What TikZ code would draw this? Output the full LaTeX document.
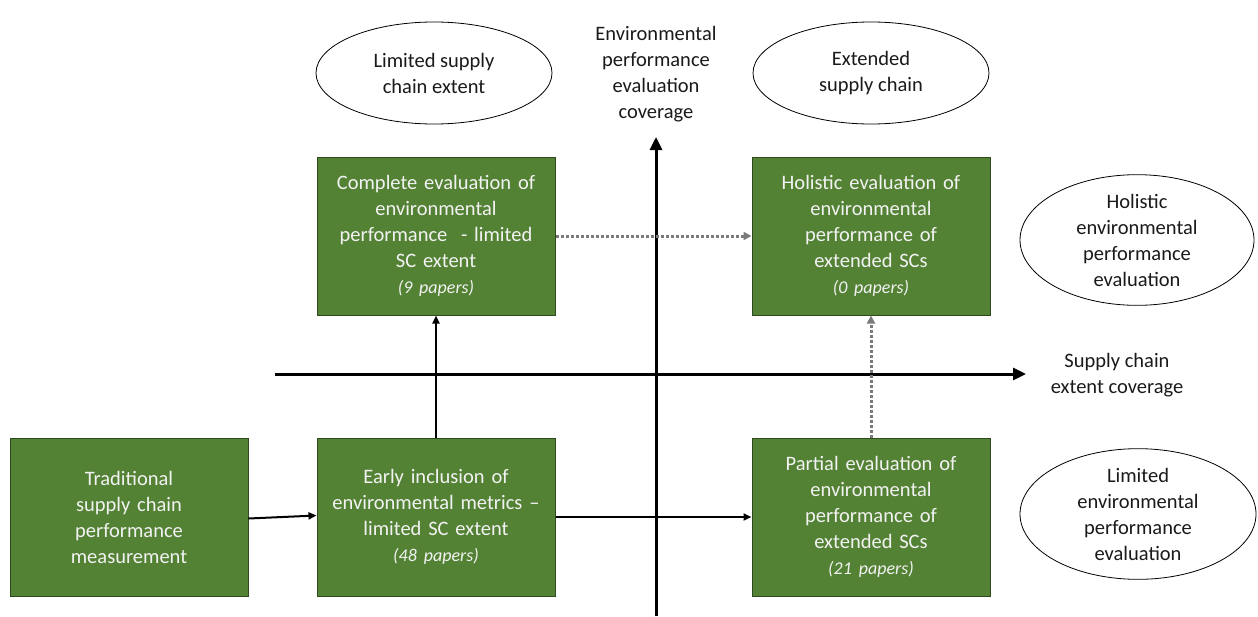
\documentclass[tikz,border=0pt]{standalone}
\usepackage{fontspec}
\setmainfont{Carlito}
\usetikzlibrary{shapes.geometric,arrows.meta,calc}
\definecolor{boxgreen}{HTML}{548235}
\definecolor{boxedge}{HTML}{2F4A1E}
\definecolor{boxtext}{HTML}{F2F2F2}
\definecolor{dotgray}{HTML}{7A7A7A}
\definecolor{ink}{HTML}{1A1A1A}
\begin{document}
\begin{tikzpicture}[x=1pt,y=-1pt,
  greenbox/.style={draw=boxedge, line width=1pt, fill=boxgreen, text=boxtext,
    minimum width=238pt, minimum height=158pt, text width=232pt, align=center,
    font=\fontsize{20.5}{26}\selectfont, inner sep=0pt},
  oval/.style={ellipse, draw=black, line width=0.8pt, fill=white,
    minimum width=236pt, minimum height=102pt, align=center, text=ink,
    font=\fontsize{20.5}{26}\selectfont, inner sep=0pt},
  axlabel/.style={align=center, text=ink, font=\fontsize{20.5}{26}\selectfont, inner sep=0pt},
  axisline/.style={line width=3pt, -{Triangle[length=13pt,width=12pt]}},
  flow/.style={line width=2pt, -{Triangle[length=8pt,width=7pt]}},
  dotflow/.style={dotgray, line width=3pt, dash pattern=on 3pt off 2pt, -{Triangle[length=8pt,width=8pt]}},
  paperfont/.style={}
]
\useasboundingbox (0,0) rectangle (1258,616);

% axes
\coordinate (vbot) at (656,616);
\coordinate (vtop) at (656,137);
\coordinate (hl) at (275,374);
\coordinate (hr) at (1026,374);
\draw[axisline] (vbot) -- (vtop);
\draw[axisline] (hl) -- (hr);

% axis labels
\node[axlabel] (ylab) at (656,74) {Environmental\\performance\\evaluation\\coverage};
\node[axlabel] (xlab) at (1117,375) {Supply chain\\extent coverage};

% ovals
\node[oval] (lse) at (434,73) {Limited supply\\chain extent};
\node[oval] (esc) at (871,73) {Extended\\supply chain};
\node[oval, minimum width=234pt, minimum height=116pt] (hol) at (1137,240) {Holistic\\environmental\\performance\\evaluation};
\node[oval, minimum width=236pt, minimum height=118pt] (lim) at (1138,514) {Limited\\environmental\\performance\\evaluation};

% boxes
\node[greenbox] (complete) at (436,236) {Complete evaluation of\\environmental\\performance\ \ - limited\\SC extent\\{\itshape\fontsize{18}{26}\selectfont (9 papers)}};
\node[greenbox] (holistic) at (871,236) {Holistic evaluation of\\environmental\\performance of\\extended SCs\\{\itshape\fontsize{18}{26}\selectfont (0 papers)}};
\node[greenbox] (trad) at (129,517) {Traditional\\supply chain\\performance\\measurement};
\node[greenbox] (early) at (436,517) {Early inclusion of\\environmental metrics --\\limited SC extent\\{\itshape\fontsize{18}{24}\selectfont (48 papers)}};
\node[greenbox] (partial) at (871,517) {Partial evaluation of\\environmental\\performance of\\extended SCs\\{\itshape\fontsize{18}{26}\selectfont (21 papers)}};

% connectors
\draw[flow] ($(trad.east)+(0,1.5)$) -- ($(early.west)+(0,-1.5)$);
\draw[flow] (early.east) -- (partial.west);
\draw[flow] (early.north) -- (complete.south);
\draw[dotflow] (complete.east) -- (holistic.west);
\draw[dotflow] (partial.north) -- (holistic.south);
\end{tikzpicture}
\end{document}
